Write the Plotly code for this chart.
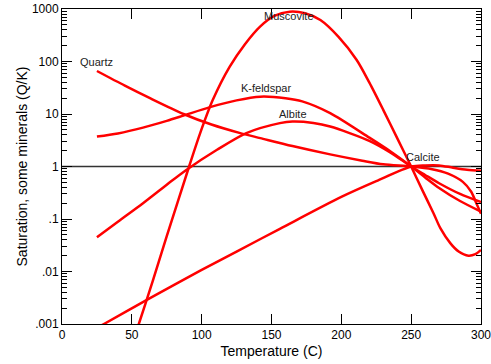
import numpy as np
import plotly.graph_objects as go

# ---- data ----
quartz_T = [25, 45, 63, 87, 107, 127, 142, 165, 192, 215, 230, 250, 265, 276, 287, 293, 297, 300]
quartz_q = [66, 34.7, 20.0, 10, 6.3, 4.37, 3.47, 2.45, 1.70, 1.29, 1.10, 1.0, 0.89, 0.74, 0.51, 0.33, 0.19, 0.126]

kfsp_T = [25, 40, 58, 75, 87, 106, 125, 142, 160, 172, 192, 220, 235, 250, 260, 270, 285, 300]
kfsp_q = [3.72, 4.27, 5.5, 7.41, 9.33, 13.5, 18.2, 21.4, 20.0, 17.4, 10.4, 3.55, 1.95, 1.0, 0.62, 0.39, 0.22, 0.138]

albite_T = [25, 40, 58, 75, 89, 111, 132, 156, 165, 180, 192, 220, 235, 250, 260, 270, 285, 300]
albite_q = [0.045, 0.089, 0.20, 0.45, 0.86, 2.08, 4.33, 6.7, 7.2, 6.76, 5.78, 3.09, 1.86, 1.0, 0.69, 0.48, 0.30, 0.21]

musc_T = [50, 55, 65, 75, 91, 99, 108, 120, 131, 142, 152, 163, 174, 185, 198, 211, 220, 230, 240, 250,
          258, 266, 271, 278, 284, 291, 296, 300]
musc_q = [0.00038, 0.001, 0.0066, 0.047, 1.0, 4.37, 18.6, 79, 214, 468, 741, 891, 832, 617, 295, 107, 40, 12,
          3.47, 1.0, 0.355, 0.129, 0.066, 0.0347, 0.024, 0.020, 0.0214, 0.0257]

calcite_T = [25, 30, 63, 100, 125, 156, 200, 225, 250, 260, 270, 280, 290, 300]
calcite_q = [0.00085, 0.001, 0.0031, 0.0107, 0.024, 0.065, 0.263, 0.525, 1.0, 1.05, 1.05, 0.95, 0.87, 0.83]

label_names = ["Quartz", "K-feldspar", "Albite", "Muscovite", "Calcite"]
label_T = [24.8, 145.8, 165.1, 162.4, 258.8]
label_q = [96.6, 31.6, 10.0, 736, 1.52]

ref_T = [0, 300]
ref_q = [1, 1]

y_tickvals = [0.001, 0.01, 0.1, 1, 10, 100, 1000]
y_ticktext = [".001", ".01", ".1", "1", "10", "100", "1000"]
x_tickvals = [0, 50, 100, 150, 200, 250, 300]

FONT = "Liberation Sans, Arial, Helvetica, sans-serif"

fig = go.Figure()

fig.add_trace(go.Scatter(x=ref_T, y=ref_q, mode="lines",
                         line=dict(color="#333333", width=1.5), hoverinfo="skip"))

for T, q in [(quartz_T, quartz_q), (kfsp_T, kfsp_q), (albite_T, albite_q),
             (musc_T, musc_q), (calcite_T, calcite_q)]:
    fig.add_trace(go.Scatter(x=T, y=q, mode="lines",
                             line=dict(color="#ff0000", width=2.5, shape="spline", smoothing=0.8)))

for name, t, q in zip(label_names, label_T, label_q):
    fig.add_annotation(x=t, y=np.log10(q), text=name, showarrow=False,
                       font=dict(family=FONT, size=11, color="#222222"))

minor_vals = [m * 10.0 ** e for e in range(-3, 3) for m in range(2, 10)]

fig.update_layout(
    width=491, height=364,
    margin=dict(l=62, r=10, t=9, b=40, autoexpand=False),
    paper_bgcolor="white", plot_bgcolor="white",
    showlegend=False,
    font=dict(family=FONT, size=12, color="black"),
    xaxis=dict(range=[-0.01, 300.01], tickvals=x_tickvals, ticks="inside", ticklen=10,
               tickcolor="black", showgrid=False, zeroline=False, automargin=False,
               ticklabeloverflow="allow",
               showline=True, linecolor="black", linewidth=1, mirror="ticks",
               tickfont=dict(family=FONT, size=12, color="black"),
               title=dict(text="Temperature (C)", font=dict(family=FONT, size=14, color="black"), standoff=4)),
    yaxis=dict(type="log", range=[-3.0001, 3.0001], tickvals=y_tickvals, ticktext=y_ticktext,
               ticks="inside", ticklen=10, tickcolor="black", showgrid=False, zeroline=False,
               automargin=False, ticklabeloverflow="allow",
               showline=True, linecolor="black", linewidth=1, mirror="ticks",
               tickfont=dict(family=FONT, size=12, color="black"),
               minor=dict(tickvals=minor_vals, ticks="inside", ticklen=5, tickcolor="black", showgrid=False),
               title=dict(text="Saturation, some minerals (Q/K)", font=dict(family=FONT, size=14, color="black"), standoff=0)),
)

fig.write_html("out.html", config={"displayModeBar": False},
               post_script="document.body.style.margin='0';document.body.style.overflow='hidden';")
